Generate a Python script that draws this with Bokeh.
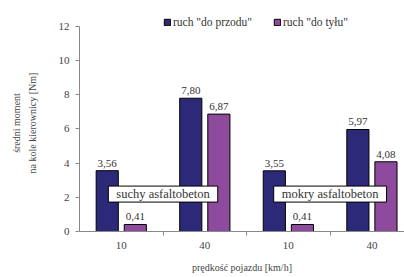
from bokeh.plotting import figure
from bokeh.models import ColumnDataSource, FixedTicker, Label, Legend, LegendItem, Range1d
from bokeh.embed import file_html
from bokeh.resources import INLINE

speeds = ["10", "40", "10", "40"]
forward = [3.56, 7.80, 3.55, 5.97]
backward = [0.41, 6.87, 0.41, 4.08]
surfaces = ["suchy asfaltobeton", "mokry asfaltobeton"]
series_names = ['ruch "do przodu"', 'ruch "do tyłu"']

FONT = "Liberation Serif"
BLUE = "#2c2a78"
PURPLE = "#8e4a9c"

xc = [i + 0.5 for i in range(len(speeds))]
off = 0.168
w = 0.265

def fmt(v):
    return f"{v:.2f}".replace(".", ",")

src_f = ColumnDataSource(dict(x=[c - off for c in xc], top=forward, lab=[fmt(v) for v in forward]))
src_b = ColumnDataSource(dict(x=[c + off for c in xc], top=backward, lab=[fmt(v) for v in backward]))

p = figure(width=404, height=277, output_backend="svg", toolbar_location=None,
           x_range=Range1d(0, 3.89), y_range=Range1d(0, 12.7),
           min_border_left=79, min_border_right=0, min_border_top=14, min_border_bottom=46)
p.outline_line_color = None
p.xgrid.visible = False
p.ygrid.visible = False

rf = p.vbar(x="x", top="top", width=w, source=src_f, fill_color=BLUE, line_color="black", line_width=1)
rb = p.vbar(x="x", top="top", width=w, source=src_b, fill_color=PURPLE, line_color="black", line_width=1)

for src in (src_f, src_b):
    p.text(x="x", y="top", text="lab", source=src, text_align="center", text_baseline="bottom",
           y_offset=-4, text_font="Liberation Serif", text_font_size="11px", text_color="#333333")

# surface labels
for i, s in enumerate(surfaces):
    lab = Label(x=2 * i + 1.0, y=2.19, text=s, text_align="center", text_baseline="middle",
                text_font=FONT, text_font_size="12.5px", text_color="#333333",
                background_fill_color="white", border_line_color="black", border_line_width=1,
                padding=dict(top=1, right=8, bottom=1, left=8))
    p.add_layout(lab)

# axes
p.xaxis.ticker = FixedTicker(ticks=xc, minor_ticks=[1, 2, 3])
p.xaxis.major_label_overrides = {c: s for c, s in zip(xc, speeds)}
p.xaxis.major_tick_line_color = None
p.xaxis.major_tick_out = 0
p.xaxis.major_tick_in = 0
p.xaxis.minor_tick_out = 4
p.xaxis.minor_tick_in = 0
p.xaxis.minor_tick_line_color = "#888888"
p.xaxis.axis_line_color = "#888888"
p.xaxis.axis_label = "prędkość pojazdu [km/h]"

p.yaxis.ticker = FixedTicker(ticks=[0, 2, 4, 6, 8, 10, 12], minor_ticks=[])
p.yaxis.bounds = (0, 12)
p.yaxis.major_tick_out = 4
p.yaxis.major_tick_in = 0
p.yaxis.major_tick_line_color = "#888888"
p.yaxis.axis_line_color = "#888888"
p.yaxis.axis_label = "średni moment\nna kole kierownicy [Nm]"

for ax in (p.xaxis[0], p.yaxis[0]):
    ax.major_label_text_font = FONT
    ax.major_label_text_font_size = "11px"
    ax.major_label_text_color = "#444444"
    ax.axis_label_text_font = FONT
    ax.axis_label_text_font_size = "10px"
    ax.axis_label_text_font_style = "normal"
    ax.axis_label_text_color = "#444444"
p.xaxis.major_label_text_line_height = 1.0
p.xaxis.axis_label_text_line_height = 1.0
p.xaxis.major_label_standoff = 6
p.xaxis.axis_label_standoff = 10
p.yaxis.major_label_standoff = 6
p.yaxis.axis_label_standoff = 18
p.yaxis.axis_label_text_line_height = 1.4

legend = Legend(items=[LegendItem(label=series_names[0], renderers=[rf]),
                       LegendItem(label=series_names[1], renderers=[rb])],
                location=(84, 203), orientation="horizontal",
                glyph_width=8, glyph_height=8, label_standoff=2, spacing=21,
                padding=0, margin=0, border_line_color=None, background_fill_alpha=0,
                label_text_font=FONT, label_text_font_size="11.5px", label_text_color="#333333",
                label_height=12)
p.add_layout(legend, "center")

open("out.html", "w").write(file_html(p, INLINE))
